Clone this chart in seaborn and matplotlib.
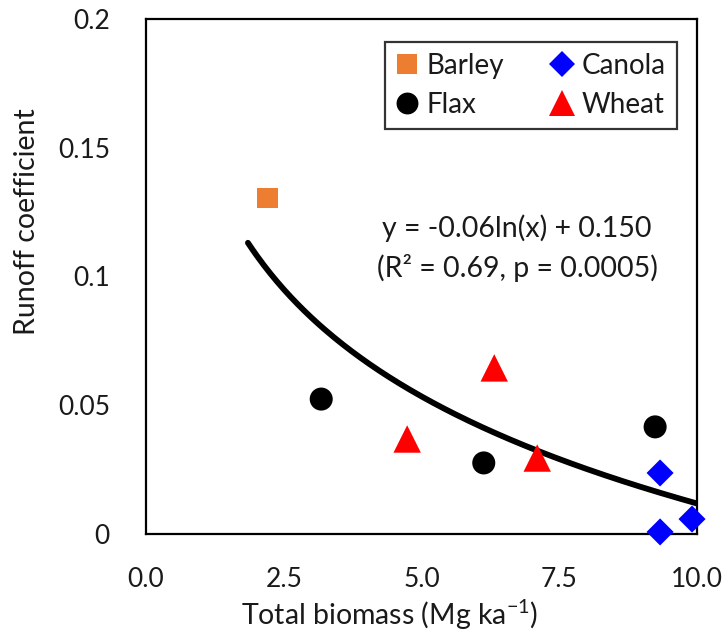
import numpy as np
import pandas as pd
import matplotlib
matplotlib.use("Agg")
import matplotlib.pyplot as plt
import seaborn as sns
from matplotlib.lines import Line2D
from matplotlib.ticker import MultipleLocator, FixedLocator

# ---- data ----
crop = ["Barley", "Flax", "Flax", "Flax", "Wheat", "Wheat", "Wheat", "Canola", "Canola", "Canola"]
biomass = [2.20, 3.18, 6.13, 9.24, 4.74, 6.32, 7.10, 9.33, 9.33, 9.91]
runoff = [0.1305, 0.0524, 0.0276, 0.0416, 0.0369, 0.0645, 0.0295, 0.0237, 0.0008, 0.0058]

fit_a = -0.06
fit_b = 0.150
fit_xmin, fit_xmax = 1.85, 10.0

legend_order = ["Barley", "Flax", "Canola", "Wheat"]
colors = {"Barley": "#ED7D31", "Flax": "#000000", "Canola": "#0000FF", "Wheat": "#FF0000"}
markers = {"Barley": "s", "Flax": "o", "Canola": "D", "Wheat": "^"}
sizes = {"Barley": 225, "Flax": 275, "Canola": 190, "Wheat": 390}

x_ticks = [0.0, 2.5, 5.0, 7.5, 10.0]
y_ticks = [0, 0.05, 0.1, 0.15, 0.2]
y_ticklabels = ["0", "0.05", "0.1", "0.15", "0.2"]

sns.set_style("white")
FONT = ["Lato", "DejaVu Sans"]
plt.rcParams["font.family"] = FONT
plt.rcParams["mathtext.fontset"] = "custom"
plt.rcParams["mathtext.rm"] = "Lato"
plt.rcParams["mathtext.it"] = "Lato:italic"

TXT = "#1a1a1a"
df = pd.DataFrame({"crop": crop, "biomass": biomass, "runoff": runoff})

fig = plt.figure(figsize=(7.28, 6.40), dpi=100)
ax = fig.add_axes([146 / 728, 106 / 640, (697 - 146) / 728, (534 - 19) / 640])

xf = np.linspace(fit_xmin, fit_xmax, 200)
fit_df = pd.DataFrame({"x": xf, "y": fit_a * np.log(xf) + fit_b})
sns.lineplot(data=fit_df, x="x", y="y", ax=ax, color="black", linewidth=4.2, zorder=2)

sns.scatterplot(data=df, x="biomass", y="runoff", hue="crop", style="crop", size="crop",
                palette=colors, markers=markers, sizes=sizes, linewidth=0,
                ax=ax, legend=False, zorder=3, clip_on=False)

ax.set_xlim(0, 10)
ax.set_ylim(0, 0.2)
ax.xaxis.set_major_locator(FixedLocator(x_ticks))
ax.set_xticklabels([f"{v:.1f}" for v in x_ticks])
ax.xaxis.set_minor_locator(MultipleLocator(1.25))
ax.yaxis.set_major_locator(FixedLocator(y_ticks))
ax.set_yticklabels(y_ticklabels)
ax.yaxis.set_minor_locator(MultipleLocator(0.025))

for s in ax.spines.values():
    s.set_color("black")
    s.set_linewidth(1.6)

ax.tick_params(axis="both", which="both", direction="out", color="black", width=1.6,
               labelsize=19, labelcolor=TXT)
ax.tick_params(axis="x", which="major", length=8, pad=16)
ax.tick_params(axis="x", which="minor", length=5)
ax.tick_params(axis="y", which="both", length=8, pad=18)

ax.set_xlabel("Total biomass (Mg ka$^{-1}$)", fontsize=20.5, color=TXT)
ax.set_ylabel("Runoff coefficient", fontsize=20.5, color=TXT)
ax.xaxis.set_label_coords((390 - 146) / 551, -(615 - 534) / 515)
ax.yaxis.set_label_coords(-(146 - 27) / 551, (534 - 222) / 515)
ax.xaxis.label.set_verticalalignment("center")
ax.yaxis.label.set_verticalalignment("center")

ax.text((517 - 146) / 551, (534 - 228) / 515, "y = -0.06ln(x) + 0.150", transform=ax.transAxes,
        ha="center", va="center", fontsize=20.5, color=TXT)
ax.text((517 - 146) / 551, (534 - 268) / 515, "(R² = 0.69, p = 0.0005)", transform=ax.transAxes,
        ha="center", va="center", fontsize=20.5, color=TXT)

handles = [Line2D([], [], linestyle="none", marker=markers[c], color=colors[c],
                  markersize=np.sqrt(sizes[c]) * 0.95, markeredgewidth=0, label=c)
           for c in legend_order]
leg = ax.legend(handles=handles, ncol=2, loc="upper right",
                bbox_to_anchor=((677 - 146) / 551, (534 - 42) / 515), borderaxespad=0,
                fontsize=20, frameon=True, fancybox=False, edgecolor="black",
                handlelength=0.8, handletextpad=0.3, columnspacing=1.7,
                borderpad=0.4, labelspacing=0.45)
leg.get_frame().set_linewidth(1.6)
for t in leg.get_texts():
    t.set_color(TXT)

fig.savefig("out.png", dpi=100)
